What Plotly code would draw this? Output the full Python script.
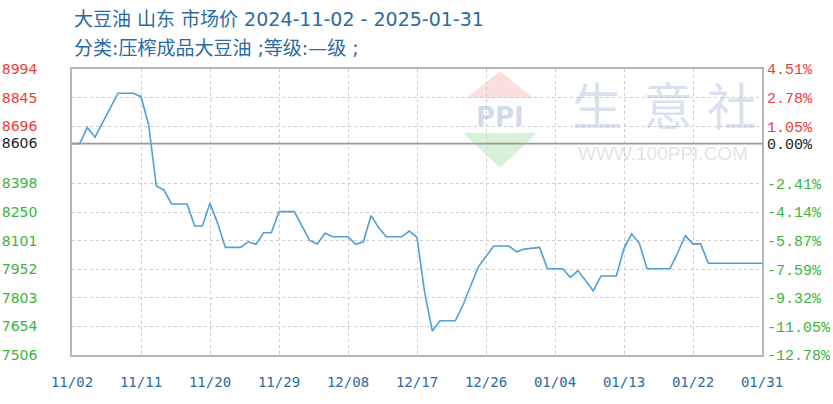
import plotly.graph_objects as go

# ---------------- data ----------------
dates = [
    "2024-11-02", "2024-11-03", "2024-11-04", "2024-11-05", "2024-11-08", "2024-11-10",
    "2024-11-11", "2024-11-12", "2024-11-13", "2024-11-14", "2024-11-15", "2024-11-17",
    "2024-11-18", "2024-11-19", "2024-11-20", "2024-11-21", "2024-11-22", "2024-11-24",
    "2024-11-25", "2024-11-26", "2024-11-27", "2024-11-28", "2024-11-29", "2024-12-01",
    "2024-12-03", "2024-12-04", "2024-12-05", "2024-12-06", "2024-12-08", "2024-12-09",
    "2024-12-10", "2024-12-11", "2024-12-12", "2024-12-13", "2024-12-15", "2024-12-16",
    "2024-12-17", "2024-12-18", "2024-12-19", "2024-12-20", "2024-12-22", "2024-12-23",
    "2024-12-25", "2024-12-27", "2024-12-29", "2024-12-30", "2024-12-31", "2025-01-02",
    "2025-01-03", "2025-01-05", "2025-01-06", "2025-01-07", "2025-01-09", "2025-01-10",
    "2025-01-12", "2025-01-13", "2025-01-14", "2025-01-15", "2025-01-16", "2025-01-19",
    "2025-01-20", "2025-01-21", "2025-01-22", "2025-01-23", "2025-01-24", "2025-01-31",
]
prices = [
    8606, 8606, 8689, 8639, 8868, 8868,
    8850, 8703, 8385, 8364, 8292, 8292,
    8177, 8177, 8295, 8191, 8066, 8066,
    8095, 8082, 8142, 8142, 8252, 8252,
    8102, 8084, 8139, 8121, 8121, 8082,
    8095, 8231, 8168, 8121, 8121, 8151,
    8118, 7830, 7631, 7684, 7684, 7766,
    7965, 8073, 8073, 8043, 8057, 8066,
    7955, 7955, 7910, 7945, 7840, 7917,
    7917, 8061, 8136, 8087, 7955, 7955,
    8038, 8127, 8084, 8084, 7983, 7983,
]
base_price = 8606

y_ticks = [8994, 8845, 8696, 8606, 8398, 8250, 8101, 7952, 7803, 7654, 7506]
y_tick_labels = ["8994", "8845", "8696", "8606", "8398", "8250", "8101", "7952", "7803", "7654", "7506"]
pct_labels = ["4.51%", "2.78%", "1.05%", "0.00%", "-2.41%", "-4.14%", "-5.87%",
              "-7.59%", "-9.32%", "-11.05%", "-12.78%"]

x_ticks = ["2024-11-02", "2024-11-11", "2024-11-20", "2024-11-29", "2024-12-08", "2024-12-17",
           "2024-12-26", "2025-01-04", "2025-01-13", "2025-01-22", "2025-01-31"]
x_tick_labels = ["11/02", "11/11", "11/20", "11/29", "12/08", "12/17",
                 "12/26", "01/04", "01/13", "01/22", "01/31"]

title_line1 = "大豆油 山东 市场价 2024-11-02 - 2025-01-31"
title_line2 = "分类:压榨成品大豆油 ;等级:—级 ;"

# ---------------- styling ----------------
RED = "#ee3b3b"
GREEN = "#3cb43c"
BLACK = "#222222"
BLUE_TXT = "#2b6aa3"
LINE = "#4f9fd6"
GRID = "#cccccc"


def tick_color(v):
    if v > base_price:
        return RED
    if v < base_price:
        return GREEN
    return BLACK


left_text = [f'<span style="color:{tick_color(v)}">{t}</span>' for v, t in zip(y_ticks, y_tick_labels)]
right_text = [f'<span style="color:{tick_color(v)}">{t}</span>' for v, t in zip(y_ticks, pct_labels)]

y_range = [min(y_ticks), max(y_ticks)]

fig = go.Figure()
fig.add_trace(go.Scatter(
    x=dates, y=prices, mode="lines",
    line=dict(color=LINE, width=1.6),
    showlegend=False, hoverinfo="x+y",
))
# invisible trace to anchor the right axis
fig.add_trace(go.Scatter(
    x=[dates[0]], y=[base_price], yaxis="y2", mode="markers",
    marker=dict(opacity=0), showlegend=False, hoverinfo="skip",
))

# plot area in pixels: left 72, right 762, top 69, bottom 355
L, R, T, B = 72, 762, 69, 355
W, H = 833, 404


def px(x):
    return (x - L) / (R - L)


def py(y):
    return (B - y) / (B - T)


shapes = []
# baseline
shapes.append(dict(type="line", xref="paper", x0=0, x1=1, yref="y", y0=base_price, y1=base_price,
                   line=dict(color="#9a9a9a", width=1.6), layer="above"))
# watermark triangles
shapes.append(dict(type="path", xref="paper", yref="paper", layer="below",
                   path=f"M {px(500)} {py(71)} L {px(533)} {py(98)} L {px(467)} {py(98)} Z",
                   fillcolor="rgba(240,140,140,0.28)", line=dict(width=0)))
shapes.append(dict(type="path", xref="paper", yref="paper", layer="below",
                   path=f"M {px(463)} {py(133)} L {px(537)} {py(133)} L {px(500)} {py(168)} Z",
                   fillcolor="rgba(120,200,120,0.28)", line=dict(width=0)))

annotations = [
    dict(text=title_line1, xref="paper", yref="paper", x=px(72), y=py(19), xanchor="left", yanchor="middle",
         showarrow=False, font=dict(family="DejaVu Sans, Noto Sans CJK SC", size=19, color=BLUE_TXT)),
    dict(text=title_line2, xref="paper", yref="paper", x=px(72), y=py(48), xanchor="left", yanchor="middle",
         showarrow=False, font=dict(family="DejaVu Sans, Noto Sans CJK SC", size=19, color=BLUE_TXT)),
    # watermark text
    dict(text="<b>PPI</b>", xref="paper", yref="paper", x=px(500), y=py(117), xanchor="center", yanchor="middle",
         showarrow=False, font=dict(family="DejaVu Sans", size=26, color="rgba(120,150,200,0.35)")),
    dict(text="生", xref="paper", yref="paper", x=px(597), y=py(103), xanchor="center", yanchor="middle",
         showarrow=False, font=dict(family="Noto Sans CJK SC", size=50, color="rgba(150,170,205,0.35)")),
    dict(text="意", xref="paper", yref="paper", x=px(668), y=py(103), xanchor="center", yanchor="middle",
         showarrow=False, font=dict(family="Noto Sans CJK SC", size=50, color="rgba(150,170,205,0.35)")),
    dict(text="社", xref="paper", yref="paper", x=px(732), y=py(103), xanchor="center", yanchor="middle",
         showarrow=False, font=dict(family="Noto Sans CJK SC", size=50, color="rgba(150,170,205,0.35)")),
    dict(text="WWW.100PPI.COM", xref="paper", yref="paper", x=px(663), y=py(153), xanchor="center", yanchor="middle",
         showarrow=False, font=dict(family="Liberation Sans", size=19, color="rgba(170,170,170,0.35)")),
]

fig.update_layout(
    width=W, height=H,
    margin=dict(l=L, r=W - R, t=T, b=H - B, pad=0, autoexpand=False),
    paper_bgcolor="white", plot_bgcolor="white",
    showlegend=False,
    shapes=shapes,
    annotations=annotations,
    xaxis=dict(
        type="date", range=[x_ticks[0], x_ticks[-1]], automargin=False,
        tickmode="array", tickvals=x_ticks, ticktext=x_tick_labels,
        showgrid=True, gridcolor=GRID, griddash="3px,3px", gridwidth=1,
        showline=True, mirror=True, linecolor="#b5b5b5", linewidth=1.5,
        ticks="", ticklabelstandoff=13,
        tickfont=dict(family="DejaVu Sans Mono", size=14, color=BLUE_TXT),
        zeroline=False,
    ),
    yaxis=dict(
        range=y_range, tickmode="array", tickvals=y_ticks, ticktext=left_text, automargin=False,
        showgrid=True, gridcolor=GRID, griddash="3px,3px", gridwidth=1,
        showline=True, mirror=True, linecolor="#b5b5b5", linewidth=1.5,
        ticks="", ticklabelstandoff=30,
        tickfont=dict(family="DejaVu Sans", size=14, color=BLACK),
        zeroline=False,
    ),
    yaxis2=dict(
        range=y_range, overlaying="y", side="right", tickmode="array", automargin=False,
        tickvals=y_ticks, ticktext=right_text,
        showgrid=False, showline=False, ticks="", ticklabelstandoff=4,
        tickfont=dict(family="Liberation Mono", size=15, color=BLACK),
        zeroline=False,
    ),
)

# remove the default page margin so the figure sits at the window's top-left corner
fig.write_html(
    "out.html",
    config={"displayModeBar": False},
    post_script="document.body.style.margin='0px';document.body.style.overflow='hidden';",
)
